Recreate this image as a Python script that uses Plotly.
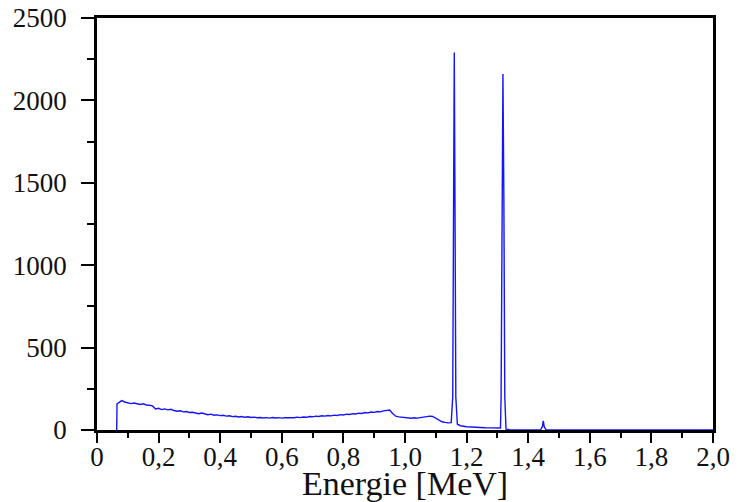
import plotly.graph_objects as go

energy_mev = [
    0.064, 0.065, 0.07, 0.08, 0.09, 0.10, 0.11, 0.12, 0.13, 0.14, 0.15, 0.16, 0.17, 0.18, 0.19,
    0.20, 0.21, 0.22, 0.23, 0.24, 0.25, 0.26, 0.27, 0.28, 0.29, 0.30, 0.31, 0.32, 0.33, 0.34,
    0.35, 0.36, 0.37, 0.38, 0.39, 0.40, 0.41, 0.42, 0.43, 0.44, 0.45, 0.46, 0.47, 0.48, 0.49,
    0.50, 0.51, 0.52, 0.53, 0.54, 0.55, 0.56, 0.57, 0.58, 0.59, 0.60, 0.61, 0.62, 0.63, 0.64,
    0.65, 0.66, 0.67, 0.68, 0.69, 0.70, 0.71, 0.72, 0.73, 0.74, 0.75, 0.76, 0.77, 0.78, 0.79,
    0.80, 0.81, 0.82, 0.83, 0.84, 0.85, 0.86, 0.87, 0.88, 0.89, 0.90, 0.91, 0.92, 0.93, 0.94,
    0.95, 0.96, 0.97, 0.98, 0.99, 1.00, 1.01, 1.02, 1.03, 1.04, 1.05, 1.06, 1.07, 1.08, 1.09,
    1.10, 1.11, 1.12, 1.13, 1.14, 1.15, 1.155, 1.158, 1.160, 1.162, 1.165, 1.17, 1.18, 1.20,
    1.22, 1.24, 1.26, 1.28, 1.30, 1.31, 1.312, 1.315, 1.318, 1.321, 1.324, 1.328, 1.34, 1.40,
    1.44, 1.446, 1.449, 1.452, 1.458, 1.60, 2.00,
]
counts = [
    0, 158, 165, 178, 170, 166, 160, 164, 158, 155, 159, 152, 150, 146, 128,
    132, 124, 128, 122, 126, 118, 114, 117, 110, 112, 106, 108, 102, 99, 103,
    96, 93, 96, 90, 92, 87, 89, 84, 86, 81, 83, 79, 82, 77, 80,
    76, 78, 74, 76, 73, 75, 72, 76, 73, 75, 72, 74, 73, 76, 74,
    78, 75, 79, 77, 82, 80, 84, 82, 86, 84, 88, 86, 90, 88, 93,
    91, 96, 94, 99, 97, 102, 100, 106, 104, 109, 107, 112, 110, 116, 119,
    121, 100, 84, 80, 77, 75, 73, 71, 74, 72, 75, 78, 81, 84, 82,
    72, 58, 50, 46, 43, 45, 200, 1500, 2290, 1500, 200, 35, 26, 20,
    17, 15, 14, 13, 12, 12, 200, 1400, 2160, 1400, 200, 5, 2, 1,
    1, 20, 55, 20, 1, 0, 0,
]

x_tick_vals = [0, 0.2, 0.4, 0.6, 0.8, 1.0, 1.2, 1.4, 1.6, 1.8, 2.0]
x_tick_text = ["0", "0,2", "0,4", "0,6", "0,8", "1,0", "1,2", "1,4", "1,6", "1,8", "2,0"]
x_minor_vals = [0.1, 0.3, 0.5, 0.7, 0.9, 1.1, 1.3, 1.5, 1.7, 1.9]
y_tick_vals = [0, 500, 1000, 1500, 2000, 2500]
y_tick_text = ["0", "500", "1000", "1500", "2000", "2500"]
y_minor_vals = [250, 750, 1250, 1750, 2250]
x_title = "Energie [MeV]"

fig = go.Figure(go.Scatter(x=energy_mev, y=counts, mode="lines",
                           line=dict(color="#1414ff", width=1.4), hoverinfo="skip"))

font = "Liberation Serif, Times New Roman, serif"
axis_common = dict(showgrid=False, zeroline=False, showline=True, linecolor="black",
                   linewidth=2.5, mirror=True, ticks="outside", tickwidth=1.6,
                   tickcolor="black", automargin=False,
                   tickfont=dict(family=font, size=27, color="#111"))

fig.update_layout(
    width=746, height=502,
    margin=dict(l=97, r=33, t=18, b=72),
    paper_bgcolor="white", plot_bgcolor="white",
    showlegend=False,
    font=dict(family=font, color="#111"),
    xaxis=dict(range=[0, 2.0], tickmode="array", tickvals=x_tick_vals, ticktext=x_tick_text,
               ticklen=10, ticklabelstandoff=-9,
               minor=dict(tickmode="array", tickvals=x_minor_vals, ticks="outside", ticklen=5,
                          tickwidth=1.6, tickcolor="black"),
               **axis_common),
    yaxis=dict(range=[0, 2500], tickmode="array", tickvals=y_tick_vals, ticktext=y_tick_text,
               ticklen=13, ticklabelstandoff=9,
               minor=dict(tickmode="array", tickvals=y_minor_vals, ticks="outside", ticklen=7,
                          tickwidth=1.6, tickcolor="black"),
               **axis_common),
    annotations=[dict(text=x_title, xref="paper", yref="paper", x=0.5, y=-0.129,
                      xanchor="center", yanchor="middle", showarrow=False,
                      font=dict(family=font, size=34, color="#111"))],
)

fig.write_html("out.html", config={"displayModeBar": False},
               post_script="document.body.style.margin='0px';document.body.style.overflow='hidden';")
